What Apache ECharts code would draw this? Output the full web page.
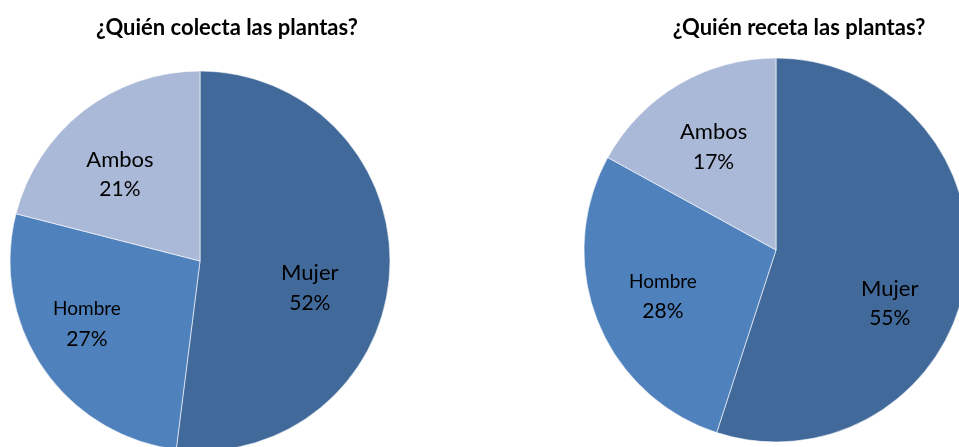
<!DOCTYPE html>
<html>
<head>
<meta charset="utf-8">
<style>
  html, body { margin: 0; padding: 0; background: #fff; }
  #chart { width: 959px; height: 447px; }
</style>
<script src="https://cdn.jsdelivr.net/npm/echarts@6/dist/echarts.min.js"></script>
</head>
<body>
<div id="chart"></div>
<script>
const categories = ['Mujer', 'Hombre', 'Ambos']
const colectaValues = [52, 27, 21]
const recetaValues = [55, 28, 17]
const titles = ['¿Quién colecta las plantas?', '¿Quién receta las plantas?']
const colorList = ['#416A9B', '#4F81BD', '#AAB9D7']

// label nudges (px) so the labels sit where the original has them
const colectaShift = [[12, 21], [-32, 8], [-20, -9]]
const recetaShift = [[16, 38], [-21, 10], [-12, -18]]

function pieSeries(values, center, radius, shift) {
  return {
    type: 'pie',
    center: center,
    radius: radius,
    startAngle: 90,
    clockwise: true,
    silent: true,
    animation: false,
    itemStyle: {
      borderColor: '#ffffff',
      borderWidth: 0.6
    },
    label: {
      show: true,
      position: 'inside',
      color: '#000',
      fontFamily: 'Lato',
      formatter(p) {
        const nameStyle = p.name === 'Hombre' ? 'small' : 'big'
        return '{' + nameStyle + '|' + p.name + '}\n{pct|' + p.value + '%}'
      },
      rich: {
        big: { fontFamily: 'Lato', fontSize: 22, lineHeight: 30, color: '#000' },
        small: { fontFamily: 'Lato', fontSize: 19, lineHeight: 30, color: '#000' },
        pct: { fontFamily: 'Lato', fontSize: 21, lineHeight: 30, color: '#000' }
      }
    },
    labelLine: { show: false },
    labelLayout(params) {
      const s = shift[params.dataIndex]
      return { dx: s[0], dy: s[1] }
    },
    data: categories.map((name, i) => ({ name: name, value: values[i] }))
  }
}

const chart = echarts.init(document.getElementById('chart'))
chart.setOption({
  backgroundColor: '#fff',
  color: colorList,
  title: [{
    text: titles[0],
    left: 222,
    top: 12,
    textAlign: 'center',
    textStyle: { fontFamily: 'Lato', fontWeight: 'bold', fontSize: 22, color: '#000' }
  }, {
    text: titles[1],
    left: 794,
    top: 12,
    textAlign: 'center',
    textStyle: { fontFamily: 'Lato', fontWeight: 'bold', fontSize: 22, color: '#000' }
  }],
  series: [
    pieSeries(colectaValues, [200, 261], 190, colectaShift),
    pieSeries(recetaValues, [776, 250], 192, recetaShift)
  ]
})
</script>
</body>
</html>
